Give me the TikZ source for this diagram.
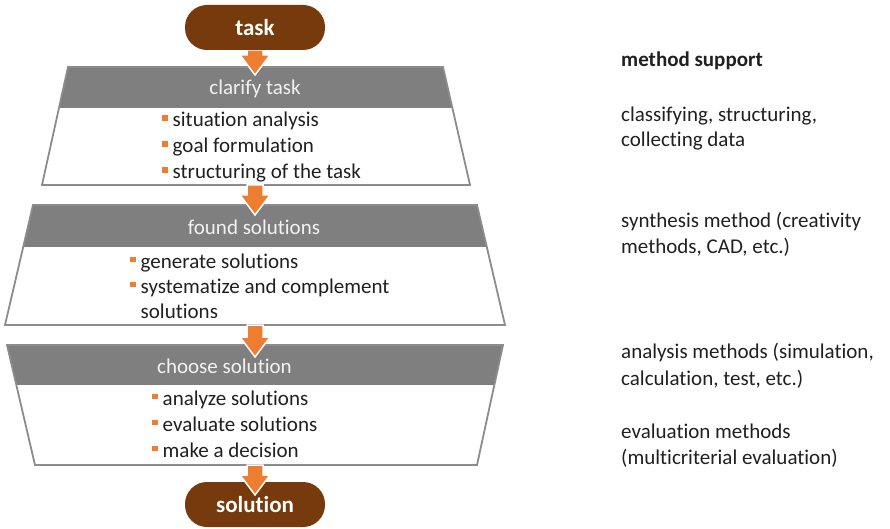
\documentclass[tikz,border=0pt]{standalone}
\usepackage{fontspec}
\setmainfont{Carlito}[Ligatures=NoCommon]
\usetikzlibrary{calc}
\definecolor{brownpill}{HTML}{763A0C}
\definecolor{orangearr}{HTML}{ED7D31}
\definecolor{headgray}{HTML}{7F7F7F}
\definecolor{bordergray}{HTML}{8C8C8C}
\definecolor{txtcol}{HTML}{202020}
\definecolor{headtxt}{HTML}{F2F2F2}
\newcommand\bul{\makebox[10.5pt][l]{\textcolor{orangearr}{\rule[6pt]{5.5pt}{5.5pt}}}}
\newcommand\flowarrow[2]{\path[flowarr] let \p1=(#1), \p2=(#2) in
  (\x1-8pt,\y1) -- (\x1-8pt,\y2+20pt) -- (\x1-15pt,\y2+20pt) -- (\x1,\y2)
  -- (\x1+15pt,\y2+20pt) -- (\x1+8pt,\y2+20pt) -- (\x1+8pt,\y1) -- cycle;}
\newcommand\trapbox[8]{%
  \begin{scope}
    \clip (#1,#3) -- (#2,#3) -- (#4,#6) -- (#5,#6) -- cycle;
    \fill[white] (0,#3) rectangle (890,#6);
    \fill[headgray] (0,#3) rectangle (890,#7);
  \end{scope}
  \draw[trapborder] (#1,#3) -- (#2,#3) -- (#4,#6) -- (#5,#6) -- cycle;
  \coordinate (#8) at ({(#1+#2)/2},#3);}
\begin{document}
\begin{tikzpicture}[x=1pt,y=-1pt,
  pill/.style={fill=brownpill, text=white, font=\fontsize{23}{27}\selectfont\bfseries,
    rounded corners=22pt, minimum width=140pt, minimum height=45pt, inner sep=0pt},
  flowarr/.style={fill=orangearr, draw=white, line width=1.5pt, line join=miter},
  trapborder/.style={draw=bordergray, line width=1.8pt, line join=miter},
  headtext/.style={text=headtxt, font=\fontsize{21}{25}\selectfont, inner sep=0pt, anchor=base},
  itemtext/.style={text=txtcol, font=\fontsize{21}{25}\selectfont, inner sep=0pt, anchor=base west},
  sidetext/.style={text=txtcol, font=\fontsize{21}{25}\selectfont, inner sep=0pt, anchor=base west}]
\useasboundingbox (0,0) rectangle (890,529);

% stage boxes
\trapbox{68}{443}{67}{470}{42}{185}{108}{top1}
\trapbox{33}{477}{205}{505}{5}{325}{247}{top2}
\trapbox{7}{503}{345}{477}{35}{465}{385}{top3}

\coordinate (in1) at (255,75);
\coordinate (out1) at (255,185);
\coordinate (in2) at (255,215);
\coordinate (out2) at (255,325);
\coordinate (in3) at (255,357);
\coordinate (out3) at (255,465);

% headers
\node[headtext] (h1) at (255,95) {clarify task};
\node[headtext] (h2) at (254,234) {found solutions};
\node[headtext, anchor=base west] (h3) at (157,373) {choose solution};

% items
\node[itemtext] (i1a) at (162,127) {\bul situation analysis};
\node[itemtext] (i1b) at (162,153) {\bul goal formulation};
\node[itemtext] (i1c) at (162,179) {\bul structuring of the task};

\node[itemtext] (i2a) at (130,268) {\bul generate solutions};
\node[itemtext] (i2b) at (130,293) {\bul systematize and complement};
\node[itemtext] (i2c) at (140.5,318) {solutions};

\node[itemtext] (i3a) at (152,405) {\bul analyze solutions};
\node[itemtext] (i3b) at (152,431) {\bul evaluate solutions};
\node[itemtext] (i3c) at (152,457) {\bul make a decision};

% connectors
\node[pill] (solution) at (255,504.5) {solution};
\coordinate (in4) at (255,495);
\flowarrow{255,50}{in1}
\flowarrow{out1}{in2}
\flowarrow{out2}{in3}
\flowarrow{out3}{in4}
\node[pill] (task) at (255,27.5) {task};

% method support column
\node[sidetext, font=\fontsize{21}{25}\selectfont\bfseries] (ms) at (621,67) {method support};
\node[sidetext] (m1a) at (621,122) {classifying, structuring,};
\node[sidetext] (m1b) at (621,147) {collecting data};
\node[sidetext] (m2a) at (621,227) {synthesis method (creativity};
\node[sidetext] (m2b) at (621,253) {methods, CAD, etc.)};
\node[sidetext] (m3a) at (621,358) {analysis methods (simulation,};
\node[sidetext] (m3b) at (621,385) {calculation, test, etc.)};
\node[sidetext] (m4a) at (621,438) {evaluation methods};
\node[sidetext] (m4b) at (621,464) {(multicriterial evaluation)};
\end{tikzpicture}
\end{document}
